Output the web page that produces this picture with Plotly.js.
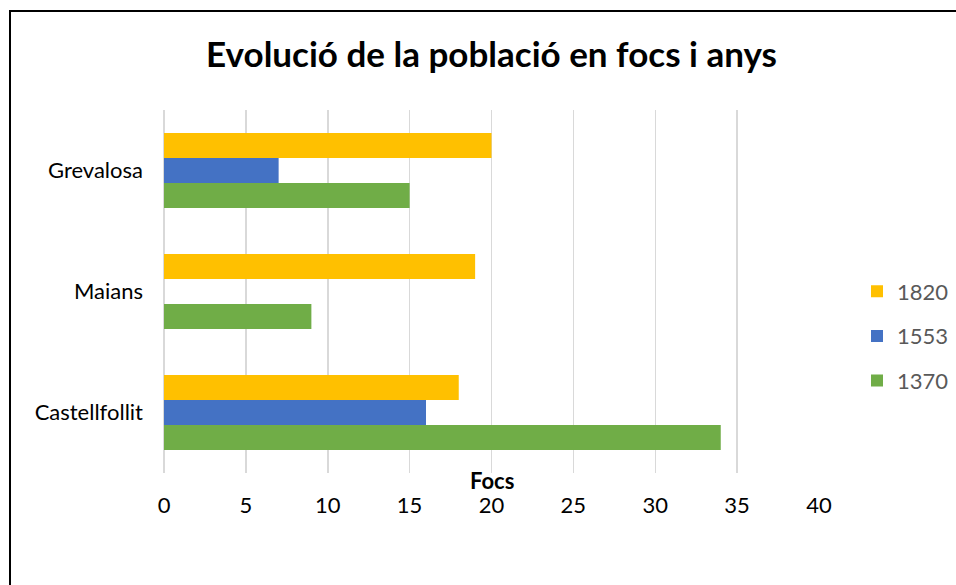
<!DOCTYPE html>
<html>
<head>
<meta charset="utf-8">
<script src="https://cdn.plot.ly/plotly-3.0.1.min.js"></script>
<style>
html,body{margin:0;padding:0;background:#fff;}
#chart{width:956px;height:585px;position:absolute;left:0;top:0;}
#frame{position:absolute;left:9px;top:10px;width:960px;height:600px;border-left:2px solid #000;border-top:2px solid #000;pointer-events:none;}
</style>
</head>
<body>
<div id="chart"></div>
<div id="frame"></div>
<script>
const categories = ['Castellfollit', 'Maians', 'Grevalosa'];
const seriesNames = ['1370', '1553', '1820'];
const values1370 = [34, 9, 15];
const values1553 = [16, 0, 7];
const values1820 = [18, 19, 20];
const xTicks = [0, 5, 10, 15, 20, 25, 30, 35, 40];
const colors = ['#70AD47', '#4472C4', '#FFC000'];
const seriesValues = [values1370, values1553, values1820];

const FONT = 'Lato, "Open Sans", sans-serif';

const traces = seriesNames.map((name, i) => ({
  type: 'bar',
  orientation: 'h',
  name: name,
  legendgroup: name,
  legendrank: seriesNames.length - i,
  y: categories,
  x: seriesValues[i],
  marker: {color: colors[i]},
  hoverinfo: 'x+y+name'
}));

const layout = {
  width: 956,
  height: 585,
  margin: {l: 164, r: 137, t: 110, b: 112},
  paper_bgcolor: '#ffffff',
  plot_bgcolor: '#ffffff',
  font: {family: FONT, color: '#000000', size: 22},
  title: {
    text: '<b>Evolució de la població en focs i anys</b>',
    font: {family: FONT, size: 35, color: '#000000'},
    x: 0.5, xref: 'paper', xanchor: 'center',
    y: 1 - 55/585, yref: 'container', yanchor: 'middle'
  },
  barmode: 'group',
  bargap: 0.38,
  bargroupgap: 0,
  xaxis: {
    range: [0, 40],
    tickvals: xTicks,
    ticktext: xTicks.map(String),
    showgrid: true,
    gridcolor: '#d9d9d9',
    gridwidth: 1.5,
    zeroline: true,
    zerolinecolor: '#d9d9d9',
    zerolinewidth: 1.5,
    showline: false,
    ticks: '',
    ticklabelstandoff: 17,
    tickfont: {family: FONT, size: 22, color: '#000000'},
    fixedrange: true
  },
  yaxis: {
    type: 'category',
    categoryorder: 'array',
    categoryarray: categories,
    showgrid: false,
    zeroline: false,
    showline: false,
    ticks: '',
    ticklabelstandoff: 20,
    tickfont: {family: FONT, size: 22, color: '#000000'},
    fixedrange: true
  },
  annotations: [{
    text: '<b>Focs</b>',
    x: 20, xref: 'x',
    y: -7/363, yref: 'paper',
    xanchor: 'center', yanchor: 'middle',
    showarrow: false,
    font: {family: FONT, size: 22, color: '#000000'}
  }],
  legend: {
    traceorder: 'grouped',
    tracegroupgap: 13,
    x: 857/956, xref: 'container', xanchor: 'left',
    y: (473 - 336) / 363, yref: 'paper', yanchor: 'middle',
    font: {family: FONT, size: 22, color: '#595959'},
    bgcolor: 'rgba(0,0,0,0)',
    itemclick: false, itemdoubleclick: false
  },
  showlegend: true
};

Plotly.newPlot('chart', traces, layout, {displayModeBar: false, staticPlot: true});
</script>
</body>
</html>
